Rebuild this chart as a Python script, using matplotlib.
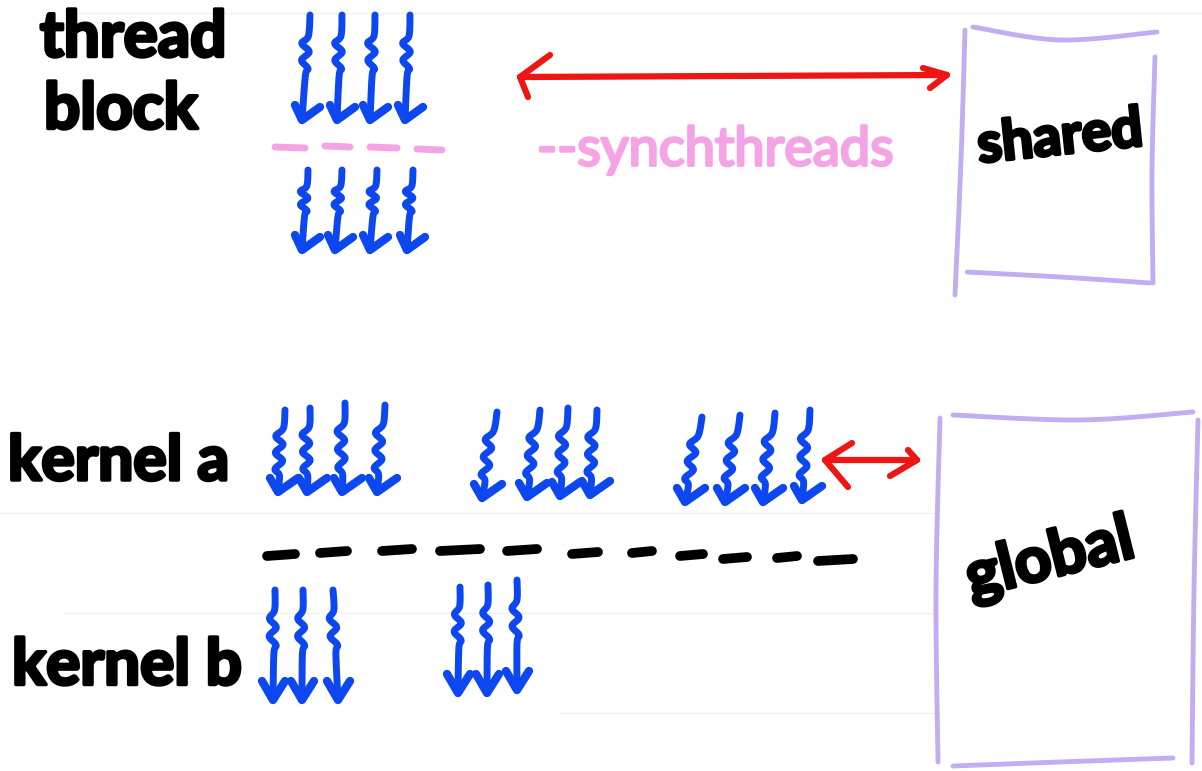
import numpy as np
import matplotlib
matplotlib.use("Agg")
import matplotlib.pyplot as plt
import matplotlib.patheffects as pe

# ---------------- data (pixel coordinates of the sketch) ----------------
# thread arrows: (top_x, top_y) and (tip_x, tip_y)
block_upper_tops = [(310, 15), (342, 15), (375, 15), (410, 15)]
block_upper_tips = [(302, 120), (337, 120), (370, 120), (405, 120)]
block_lower_tops = [(308, 170), (342, 170), (377, 170), (413, 170)]
block_lower_tips = [(302, 250), (335, 250), (370, 250), (407, 250)]

kernel_a_tops = [(285, 410), (310, 408), (345, 403), (385, 405),
                 (497, 412), (540, 410), (568, 408), (597, 410),
                 (702, 417), (740, 415), (775, 413), (810, 410)]
kernel_a_tips = [(278, 492), (307, 492), (342, 492), (377, 492),
                 (482, 498), (527, 497), (560, 496), (590, 495),
                 (685, 502), (725, 502), (763, 502), (802, 500)]

kernel_b_tops = [(275, 590), (303, 590), (333, 590),
                 (460, 587), (488, 585), (517, 580)]
kernel_b_tips = [(273, 700), (302, 700), (338, 700),
                 (458, 693), (487, 693), (517, 690)]

# dashes: (x_start, x_end, y)
sync_dashes = [(275, 305, 147), (325, 350, 146), (370, 397, 147), (417, 442, 149)]
kernel_dashes = [(267, 295, 555), (320, 347, 552), (382, 412, 550), (440, 480, 550),
                 (507, 537, 550), (572, 598, 553), (632, 652, 552), (680, 703, 555),
                 (723, 747, 558), (777, 797, 557), (818, 853, 560)]

# double arrows: (start, end, barbs at start, barbs at end)
red_arrows = [
    ((520, 77), (947, 75), [(550, 55), (528, 97)], [(923, 68), (930, 88)]),
    ((825, 460), (917, 460), [(852, 443), (848, 487)], [(908, 450), (890, 476)]),
]

# memory boxes: each side as (start, middle, end)
shared_box = [((965, 30), (961, 160), (955, 295)),
              ((973, 27), (1060, 40), (1157, 32)),
              ((1155, 57), (1152, 170), (1153, 283)),
              ((967, 272), (1060, 277), (1150, 283))]
global_box = [((940, 418), (936, 590), (938, 762)),
              ((953, 415), (1080, 420), (1193, 412)),
              ((1198, 420), (1194, 590), (1192, 763)),
              ((953, 766), (1060, 762), (1173, 758))]

# labels: (text, x, y, rotation, size)
labels = [("thread", 40, 38, 0, 46), ("block", 44, 110, 0, 46),
          ("kernel a", 8, 462, 0, 45), ("kernel b", 12, 666, 0, 46)]
box_labels = [("shared", 1060, 138, 6, 40), ("global", 1050, 560, 14, 46)]
sync_label = ("--synchthreads", 537, 150, 39)

BLUE = "#0d47f0"
RED = "#ee1515"
PURPLE = "#c2adf0"
PINK = "#f4a4e4"
FAINT = "#f1f1f1"

# wiggle profile (style): fraction along thread -> sideways offset in px
WIGGLE = {
    "block": ([0, .20, .27, .35, .43, .51, .58, 1], [0, 0, -6, 2, -5, 2, 0, 0]),
    "ka":    ([0, .22, .32, .42, .52, .62, .72, .80, 1], [0, 0, -7, 1, -6, 2, -5, 0, 0]),
    "kb":    ([0, .18, .26, .34, .42, .50, .58, 1], [0, 0, -5, 2, -5, 2, 0, 0]),
}
BARBS = {"block": ((-7, -15), (18, -13)), "ka": ((-8, -14), (20, -14)),
         "kb": ((-11, -19), (12, -19))}


def smooth(xs, ys, n=12):
    pts = np.column_stack([xs, ys]).astype(float)
    p = np.vstack([pts[0], pts, pts[-1]])
    out = []
    for i in range(1, len(p) - 2):
        p0, p1, p2, p3 = p[i - 1], p[i], p[i + 1], p[i + 2]
        for t in np.linspace(0, 1, n, endpoint=False):
            t2, t3 = t * t, t * t * t
            out.append(0.5 * ((2 * p1) + (-p0 + p2) * t +
                              (2 * p0 - 5 * p1 + 4 * p2 - p3) * t2 +
                              (-p0 + 3 * p1 - 3 * p2 + p3) * t3))
    out.append(pts[-1])
    out = np.array(out)
    return out[:, 0], out[:, 1]


fig = plt.figure(figsize=(12.02, 7.71), dpi=100)
ax = fig.add_axes([0, 0, 1, 1])
ax.set_xlim(0, 1202)
ax.set_ylim(771, 0)
ax.axis("off")
fig.patch.set_facecolor("white")

# faint paper lines
for y, x0, x1 in [(13, 77, 1202), (513, 0, 935), (613, 65, 935), (713, 560, 935)]:
    ax.plot([x0, x1], [y, y], color=FAINT, lw=1, zorder=0)


def draw_threads(tops, tips, kind):
    ts, dxs = WIGGLE[kind]
    (lbx, lby), (rbx, rby) = BARBS[kind]
    for (x0, y0), (x1, y1) in zip(tops, tips):
        ts_a = np.array(ts)
        xs = x0 + (x1 - x0) * ts_a + np.array(dxs)
        ys = y0 + (y1 - y0) * ts_a
        sx, sy = smooth(xs, ys)
        ax.plot(sx, sy, color=BLUE, lw=5, solid_capstyle="round",
                solid_joinstyle="round", zorder=3)
        ax.plot([x1 + lbx, x1, x1 + rbx], [y1 + lby, y1, y1 + rby], color=BLUE,
                lw=6, solid_capstyle="round", solid_joinstyle="round", zorder=3)


draw_threads(block_upper_tops, block_upper_tips, "block")
draw_threads(block_lower_tops, block_lower_tips, "block")
draw_threads(kernel_a_tops, kernel_a_tips, "ka")
draw_threads(kernel_b_tops, kernel_b_tips, "kb")

for x0, x1, y in sync_dashes:
    ax.plot([x0, x1], [y, y + 1], color=PINK, lw=5, solid_capstyle="round")
for x0, x1, y in kernel_dashes:
    ax.plot([x0, x1], [y + 1, y - 1], color="black", lw=7, solid_capstyle="round")

for (s, e, bs, be) in red_arrows:
    ax.plot([s[0], e[0]], [s[1], e[1]], color=RED, lw=4.5, solid_capstyle="round")
    ax.plot([bs[0][0], s[0], bs[1][0]], [bs[0][1], s[1], bs[1][1]], color=RED,
            lw=4.5, solid_capstyle="round", solid_joinstyle="round")
    ax.plot([be[0][0], e[0], be[1][0]], [be[0][1], e[1], be[1][1]], color=RED,
            lw=4.5, solid_capstyle="round", solid_joinstyle="round")

for box in (shared_box, global_box):
    for side in box:
        xs = [p[0] for p in side]
        ys = [p[1] for p in side]
        sx, sy = smooth(xs, ys)
        ax.plot(sx, sy, color=PURPLE, lw=3.5, solid_capstyle="round")

hand = ["Lato", "DejaVu Sans"]
stroke = [pe.withStroke(linewidth=2.5, foreground="black")]
for txt, x, y, rot, fs in labels:
    ax.text(x, y, txt, fontsize=fs, fontweight="bold", family=hand, color="black",
            ha="left", va="center", rotation=rot, path_effects=stroke)
for txt, x, y, rot, fs in box_labels:
    ax.text(x, y, txt, fontsize=fs, fontweight="bold", family=hand, color="black",
            ha="center", va="center", rotation=rot, path_effects=stroke)
ax.text(sync_label[1], sync_label[2], sync_label[0], fontsize=sync_label[3],
        family=hand, color=PINK, ha="left", va="center",
        path_effects=[pe.withStroke(linewidth=2, foreground=PINK)])

fig.savefig("out.png", dpi=100, facecolor="white")
